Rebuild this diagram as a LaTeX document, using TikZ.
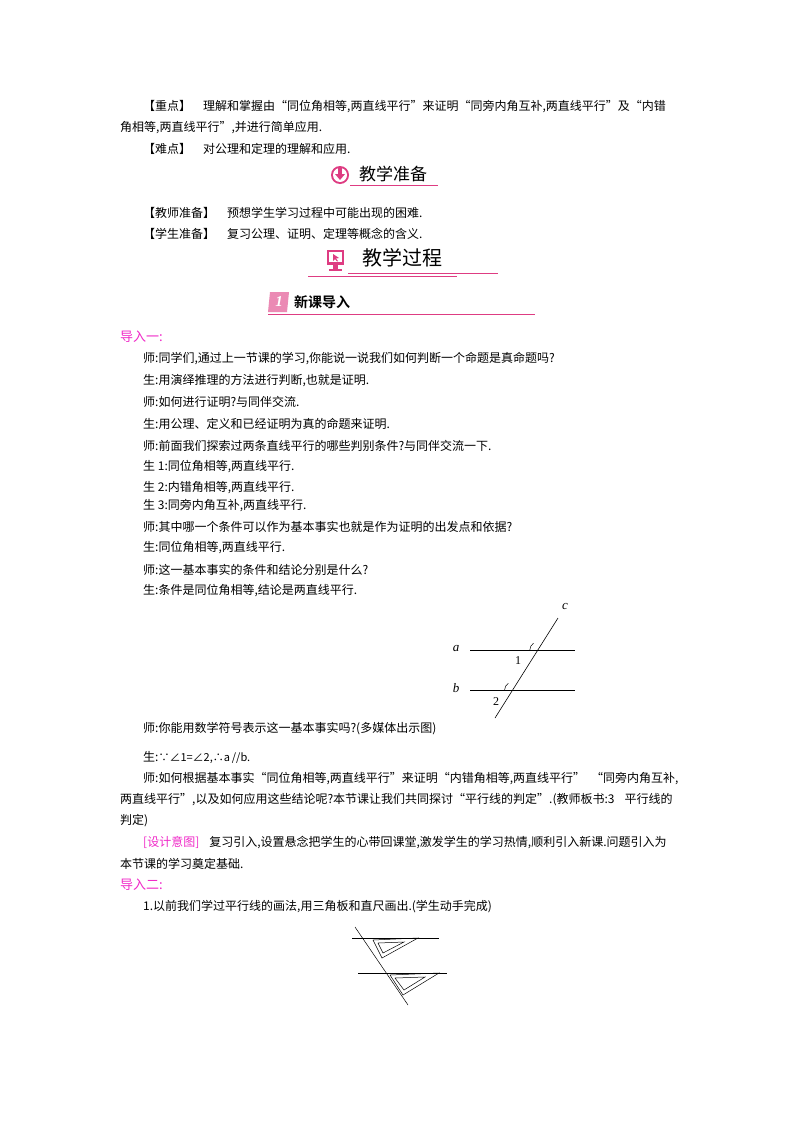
\documentclass[tikz,border=0pt]{standalone}
\usepackage{fontspec}
\setmainfont{Liberation Serif}
\newfontfamily\cjk{Noto Sans CJK SC}
\newfontfamily\cjkb{Noto Sans CJK SC Bold}
\newfontfamily\cjks{Noto Sans CJK SC}
\definecolor{pk}{RGB}{222,60,130}
\definecolor{mg}{RGB}{240,40,200}
\begin{document}
\begin{tikzpicture}[x=1pt,y=-1pt,
  tx/.style={anchor=west,inner sep=0pt,font=\cjk\fontsize{12}{14}\selectfont},
  ln/.style={line width=0.6pt}]
\useasboundingbox (0,0) rectangle (800,1132);
\fill[white] (0,0) rectangle (800,1132);
% key points
\node[tx] (k1) at (143,107) {【重点】\hspace{12pt}理解和掌握由“同位角相等,两直线平行”来证明“同旁内角互补,两直线平行”及“内错};
\node[tx] (k2) at (120,128) {角相等,两直线平行”,并进行简单应用.};
\node[tx] (k3) at (143,149) {【难点】\hspace{12pt}对公理和定理的理解和应用.};
% header 1
\fill[pk] (340,175) circle (9);
\fill[white] (340,175) circle (7);
\fill[pk] (338,168) rectangle (342,175);
\fill[pk] (335,174) -- (345,174) -- (340,180) -- cycle;
\node[anchor=west,inner sep=0pt,font=\cjk\fontsize{17}{19}\selectfont] (h1) at (359,174) {教学准备};
\draw[pk,line width=0.8pt] (350,185) -- (438,185);
\node[tx] (p1) at (143,213) {【教师准备】\hspace{12pt}预想学生学习过程中可能出现的困难.};
\node[tx] (p2) at (143,234) {【学生准备】\hspace{12pt}复习公理、证明、定理等概念的含义.};
% header 2
\fill[pk] (327,250) rectangle (344,265);
\fill[white] (329,252) rectangle (342,262);
\fill[pk] (333,265) rectangle (338,269);
\fill[pk] (329,269) rectangle (342,271);
\fill[pk] (333,254) -- (339,258) -- (336,258.5) -- (338,261) -- (337,261.5) -- (335,259) -- (333,261) -- cycle;
\node[anchor=west,inner sep=0pt,font=\fontsize{20}{22}\selectfont\addfontfeatures{LetterSpace=30}] (h2) at (362,258) {\cjk 教学过程};
\draw[pk,line width=0.6pt] (348,273) -- (498,273);
\draw[pk,line width=0.6pt] (308,276) -- (457,276);
% header 3
\fill[pk!60] (270,292) -- (289,292) -- (287,312) -- (268,312) -- cycle;
\node[font=\bfseries\itshape\fontsize{15}{15}\selectfont,text=white,inner sep=0pt] (n1) at (279,302) {1};
\node[anchor=west,inner sep=0pt,font=\cjkb\fontsize{14}{16}\selectfont] (h3) at (294,302) {新课导入};
\draw[pk,line width=0.6pt] (268,314) -- (535,314);
% intro 1
\node[tx,text=mg,font=\cjk\fontsize{13}{15}\selectfont] (d1) at (120,337) {导入一:};
\node[tx] (l1) at (143,359) {师:同学们,通过上一节课的学习,你能说一说我们如何判断一个命题是真命题吗?};
\node[tx] (l2) at (143,381) {生:用演绎推理的方法进行判断,也就是证明.};
\node[tx] (l3) at (143,402) {师:如何进行证明?与同伴交流.};
\node[tx] (l4) at (143,424) {生:用公理、定义和已经证明为真的命题来证明.};
\node[tx] (l5) at (143,446) {师:前面我们探索过两条直线平行的哪些判别条件?与同伴交流一下.};
\node[tx] (l6) at (143,467) {生 1:同位角相等,两直线平行.};
\node[tx] (l7) at (143,488) {生 2:内错角相等,两直线平行.};
\node[tx] (l8) at (143,506) {生 3:同旁内角互补,两直线平行.};
\node[tx] (l9) at (143,527) {师:其中哪一个条件可以作为基本事实也就是作为证明的出发点和依据?};
\node[tx] (l10) at (143,548) {生:同位角相等,两直线平行.};
\node[tx] (l11) at (143,570) {师:这一基本事实的条件和结论分别是什么?};
\node[tx] (l12) at (143,591) {生:条件是同位角相等,结论是两直线平行.};
% figure 1
\coordinate (ct) at (558,618);
\coordinate (cb) at (495,718);
\coordinate (a0) at (470,650); \coordinate (a1) at (575,650);
\coordinate (b0) at (470,690); \coordinate (b1) at (575,690);
\draw[ln] (a0) -- (a1);
\draw[ln] (b0) -- (b1);
\draw[ln] (ct) -- (cb);
\draw[line width=0.5pt] (529.8,650) arc[start angle=180,end angle=238,radius=8];
\draw[line width=0.5pt] (504.6,690) arc[start angle=180,end angle=238,radius=8];
\node[font=\itshape\fontsize{13}{13}\selectfont] (la) at (456,648) {a};
\node[font=\itshape\fontsize{13}{13}\selectfont] (lb) at (456,688) {b};
\node[font=\itshape\fontsize{13}{13}\selectfont] (lc) at (565,606) {c};
\node[font=\fontsize{12}{12}\selectfont] (l1a) at (518,661) {1};
\node[font=\fontsize{12}{12}\selectfont] (l2a) at (496,702) {2};
% after figure
\node[tx] (m1) at (143,729) {师:你能用数学符号表示这一基本事实吗?(多媒体出示图)};
\node[tx] (m2) at (143,757) {生:{\fontsize{11}{13}\selectfont ∵∠1=∠2,∴\textit{a}\,//\textit{b}.}};
\node[tx] (m3) at (143,779) {师:如何根据基本事实“同位角相等,两直线平行”来证明“内错角相等,两直线平行”\hspace{6pt}“同旁内角互补,};
\node[tx] (m4) at (120,800) {两直线平行”,以及如何应用这些结论呢?本节课让我们共同探讨“平行线的判定”.(教师板书:3\hspace{10pt}平行线的};
\node[tx] (m5) at (120,821) {判定)};
\node[tx] (m6) at (143,842) {{\color{mg}[设计意图]}\hspace{10pt}复习引入,设置悬念把学生的心带回课堂,激发学生的学习热情,顺利引入新课.问题引入为};
\node[tx] (m7) at (120,864) {本节课的学习奠定基础.};
\node[tx,text=mg,font=\cjk\fontsize{13}{15}\selectfont] (d2) at (120,885) {导入二:};
\node[tx] (m8) at (143,907) {1.以前我们学过平行线的画法,用三角板和直尺画出.(学生动手完成)};
% figure 2
\coordinate (t0) at (355,927); \coordinate (t1) at (408,1005);
\draw[line width=0.5pt] (t0) -- (t1);
\draw[line width=0.5pt] (352,938) -- (439,938);
\draw[line width=0.5pt] (358,973) -- (447,973);
\draw[line width=0.5pt] (373,940) -- (418,938) -- (382,958) -- cycle;
\draw[line width=0.5pt] (378,943) -- (404,942) -- (383,953) -- cycle;
\draw[line width=0.5pt] (390,975) -- (439,973) -- (403,995) -- cycle;
\draw[line width=0.5pt] (395,978) -- (425,977) -- (404,990) -- cycle;
\end{tikzpicture}
\end{document}
